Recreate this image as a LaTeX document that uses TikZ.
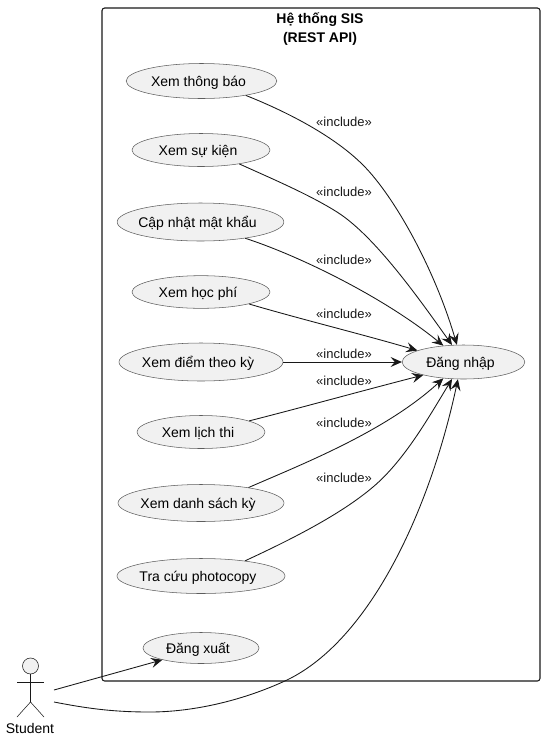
\documentclass[tikz,border=0pt]{standalone}
\usepackage{fontspec}
\setmainfont{Liberation Sans}
\usetikzlibrary{arrows.meta,shapes.geometric}
\definecolor{ucfill}{HTML}{F1F1F1}
\definecolor{ucline}{HTML}{181818}
\tikzset{
    usecase/.style={draw=ucline!70,fill=ucfill,ellipse,line width=0.4pt,inner sep=0pt,text height=7.5pt,text depth=0pt,execute at begin node={\hspace*{-4.5pt}},font=\fontsize{10.5}{12}\selectfont},
    incl/.style={font=\fontsize{9.75}{11}\selectfont,inner sep=0pt,text=ucline},
    link/.style={draw=ucline,line width=0.65pt,-{Stealth[inset=3.2pt,length=8.5pt,width=7.5pt]}},
    stick/.style={draw=ucline,line width=0.4pt}
}
\begin{document}
\begin{tikzpicture}[x=0.75pt,y=-0.75pt,yscale=1,xscale=1]
    \useasboundingbox (0,0) rectangle (545,740);
    \draw [ucline,line width=0.8pt,rounded corners=2pt] (102,8) rectangle (540,681);
    \node (title) at (320,29) [align=center,inner sep=0pt,font=\fontsize{10.5}{14.3}\selectfont\bfseries] {Hệ thống SIS\\(REST API)};
    % use cases
    \node (thongbao) at (201.5,81) [usecase,minimum width=113pt,minimum height=26.25pt] {Xem thông báo};
    \node (sukien) at (201,150) [usecase,minimum width=103.5pt,minimum height=24.75pt] {Xem sự kiện};
    \node (matkhau) at (200.5,222) [usecase,minimum width=125pt,minimum height=28.5pt] {Cập nhật mật khẩu};
    \node (hocphi) at (201,292) [usecase,minimum width=103.5pt,minimum height=24.5pt] {Xem học phí};
    \node (diem) at (201,362) [usecase,minimum width=123pt,minimum height=28.5pt] {Xem điểm theo kỳ};
    \node (lichthi) at (201,432) [usecase,minimum width=96pt,minimum height=24.75pt] {Xem lịch thi};
    \node (danhsach) at (201,503) [usecase,minimum width=124.5pt,minimum height=27.75pt] {Xem danh sách kỳ};
    \node (photocopy) at (201,576) [usecase,minimum width=126pt,minimum height=26.25pt] {Tra cứu photocopy};
    \node (dangxuat) at (201,648) [usecase,minimum width=87pt,minimum height=23.25pt] {Đăng xuất};
    \node (dangnhap) at (463.5,362) [usecase,minimum width=92pt,minimum height=25.5pt] {Đăng nhập};
    % actor
    \node (head) at (30.5,666) [circle,draw=ucline,fill=ucfill,line width=0.4pt,minimum size=12pt,inner sep=0pt] {};
    \coordinate (hip) at (30.5,702);
    \coordinate (armL) at (17,682);
    \coordinate (armR) at (44,682);
    \coordinate (footL) at (17,717);
    \coordinate (footR) at (44,717);
    \draw [stick] (head) -- (hip);
    \draw [stick] (armL) -- (armR);
    \draw [stick] (footL) -- (hip) -- (footR);
    \node (student) at (30,728) [inner sep=0pt,font=\fontsize{10.5}{12}\selectfont] {Student};
    \coordinate (outA) at (54,690);
    \coordinate (outB) at (54,702);
    % includes
    \draw [link] (thongbao.-18) .. controls (290,113) and (335,137) .. (363,165) .. controls (395,197) and (435,270) .. (dangnhap.111);
    \draw [link] (sukien.-20) .. controls (275,180) and (310,195) .. (337,212) .. controls (375,236) and (420,300) .. (dangnhap.124);
    \draw [link] (matkhau.-20) .. controls (300,256) and (385,298) .. (dangnhap.141);
    \draw [link] (hocphi.-14) .. controls (300,319) and (365,335) .. (dangnhap.166);
    \draw [link] (diem) -- (dangnhap);
    \draw [link] (lichthi.13) .. controls (300,408) and (365,390) .. (dangnhap.-162.5);
    \draw [link] (danhsach.18) .. controls (300,465) and (385,432) .. (dangnhap.-141);
    \draw [link] (photocopy.19) .. controls (290,540) and (340,515) .. (373,487) .. controls (405,460) and (430,415) .. (dangnhap.-124);
    \draw [link] (outA) -- (dangxuat.-163);
    \draw [link] (outB) .. controls (90,709) and (115,712) .. (150,712) .. controls (190,712) and (240,702) .. (287,680) .. controls (370,640) and (430,510) .. (dangnhap.-108);
    % labels
    \node (incA) at (344,122) [incl] {«include»};
    \node (incB) at (344,192) [incl] {«include»};
    \node (incC) at (344,260) [incl] {«include»};
    \node (incD) at (344,314) [incl] {«include»};
    \node (incE) at (344,354) [incl] {«include»};
    \node (incF) at (344,381) [incl] {«include»};
    \node (incG) at (344,423) [incl] {«include»};
    \node (incH) at (344,478) [incl] {«include»};
\end{tikzpicture}
\end{document}
